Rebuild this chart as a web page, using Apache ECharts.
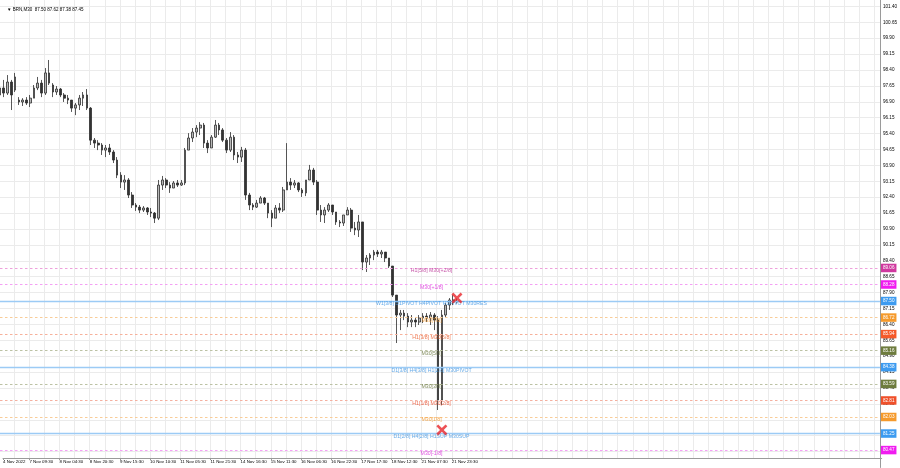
<!DOCTYPE html>
<html><head><meta charset="utf-8">
<script src="https://cdn.jsdelivr.net/npm/echarts@6/dist/echarts.min.js"></script>
<style>html,body{margin:0;padding:0;background:#fff}#c{width:900px;height:468px}</style>
</head><body><div id="c"></div>
<script>
// ---------- data ----------
const chartTitle = '\u25BC BRN,M30  87.50 87.62 87.38 87.45';
const timeLabels = ['4 Nov 2022','7 Nov 09:30','8 Nov 04:30','8 Nov 20:30','9 Nov 15:30','10 Nov 10:30','11 Nov 05:30','11 Nov 21:30','14 Nov 16:30','15 Nov 11:30','16 Nov 06:30','16 Nov 22:30','17 Nov 17:30','18 Nov 12:30','21 Nov 07:30','21 Nov 23:30'];
// each candle = 2 hours (4 x M30), [open, close, low, high]
const candles = [
[97.22,97.55,96.98,97.69],[97.55,97.31,97.12,97.93],[97.31,97.83,97.22,98.16],[97.83,97.22,96.51,97.93],[97.45,98.07,97.36,98.26],
[96.98,96.89,96.75,97.12],[96.89,96.98,96.70,97.07],[96.98,96.84,96.75,97.12],[96.84,97.07,96.65,97.22],[97.07,97.55,97.07,97.69],
[97.55,97.78,97.45,98.07],[97.78,97.31,97.12,97.93],[97.31,98.26,97.22,98.49],[98.26,97.78,97.69,98.87],[97.69,97.36,97.12,97.78],
[97.36,97.50,97.22,97.64],[97.50,97.22,97.12,97.55],[97.22,97.07,96.89,97.31],[97.07,96.98,96.79,97.22],[96.98,96.60,96.42,96.98],
[96.60,96.75,96.27,96.84],[96.75,97.07,96.51,97.22],[97.07,97.22,96.70,97.36],[97.22,96.60,96.51,97.50],[96.60,95.09,94.86,96.65],
[95.09,94.95,94.72,95.19],[94.95,94.86,94.62,95.09],[94.86,94.62,94.39,94.95],[94.62,94.72,94.29,94.86],[94.72,94.53,94.39,94.91],
[94.53,94.15,94.01,94.62],[94.15,93.44,93.30,94.29],[93.44,93.11,92.83,93.58],[93.11,93.21,92.74,93.44],[93.21,92.50,92.36,93.30],
[92.50,92.03,91.89,92.64],[92.03,91.93,91.75,92.12],[91.93,91.79,91.65,92.03],[91.79,91.89,91.70,91.98],[91.89,91.70,91.56,91.93],
[91.70,91.65,91.46,91.89],[91.65,91.41,91.18,91.70],[91.41,92.97,91.32,93.21],[92.97,93.21,92.74,93.40],[93.21,92.97,92.83,93.30],
[92.97,92.83,92.60,93.11],[92.83,93.07,92.83,93.16],[93.07,92.97,92.88,93.21],[92.97,93.07,92.93,93.21],[93.07,94.62,92.97,94.72],
[94.62,95.19,94.62,95.42],[95.19,95.47,95.00,95.66],[95.47,95.66,95.23,95.80],[95.66,95.80,95.33,95.94],[95.80,94.95,94.72,95.90],
[94.95,94.72,94.48,95.09],[94.72,95.23,94.72,95.33],[95.23,95.80,95.19,96.04],[95.80,95.57,95.33,95.90],[95.57,95.09,95.00,95.66],
[95.09,94.62,94.48,95.19],[94.62,95.23,94.53,95.47],[95.23,94.39,94.15,95.33],[94.39,94.29,94.01,94.53],[94.29,94.62,94.06,94.77],
[94.62,92.50,92.27,94.72],[92.50,92.03,91.79,92.60],[92.03,91.93,91.79,92.12],[91.93,92.12,91.89,92.27],[92.12,92.36,92.12,92.45],
[92.36,92.12,92.03,92.41],[92.12,91.65,91.41,92.12],[91.65,91.41,90.99,91.79],[91.41,91.89,91.41,92.03],[91.89,91.79,91.65,92.12],
[91.79,92.74,91.70,92.88],[92.74,93.11,92.74,94.95],[93.11,92.97,92.74,93.30],[92.97,93.07,92.83,93.21],[93.07,92.74,92.64,93.11],
[92.74,92.60,92.41,92.83],[92.60,93.21,92.45,93.21],[93.21,93.68,93.21,93.92],[93.68,93.11,92.97,93.78],[93.11,91.79,91.56,93.21],
[91.79,91.56,91.23,92.03],[91.56,91.79,91.18,91.93],[91.79,92.03,91.70,92.12],[92.03,91.70,91.56,92.03],[91.70,91.23,91.09,91.70],
[91.23,91.18,90.99,91.32],[91.18,91.56,91.04,91.56],[91.56,91.79,91.56,91.93],[91.79,90.94,90.76,91.89],[90.94,90.85,90.61,91.23],
[90.85,91.23,90.52,91.56],[91.23,89.34,88.96,91.23],[89.34,89.53,88.87,89.67],[89.53,89.67,89.20,89.76],[89.67,89.81,89.43,89.91],
[89.81,89.72,89.58,89.91],[89.72,89.81,89.53,89.91],[89.81,89.53,89.34,89.81],[89.53,89.15,89.06,89.53],[89.15,87.78,87.69,89.15],
[87.78,86.84,85.52,87.78],[86.84,86.93,86.13,87.08],[86.93,86.79,86.60,87.08],[86.79,86.51,86.27,86.93],[86.51,86.60,86.27,86.84],
[86.60,86.51,86.27,86.74],[86.51,86.70,86.37,86.84],[86.70,86.79,86.46,86.93],[86.79,86.70,86.51,86.93],[86.70,86.84,86.37,86.98],
[86.84,86.60,86.13,86.93],[86.60,82.83,82.36,86.79],[82.83,86.84,82.60,87.08],[86.84,87.31,86.70,87.41],[87.31,87.55,87.08,87.64],
[87.55,87.45,87.31,87.78],[87.50,87.45,87.38,87.62]
];
const levelValues = [89.0625, 88.28125, 87.5, 86.71875, 85.9375, 85.15625, 84.375, 83.59375, 82.8125, 82.03125, 81.25, 80.46875];
const levelTexts = ['H1[5/8] M30[+2/8]','M30[+1/8]','W1[3/8] D1PIVOT H4PIVOT H1PIVOT M30RES','M30[7/8]','H1[3/8] M30[6/8]','M30[5/8]','D1[3/8] H4[3/8] H1[2/8] M30PIVOT','M30[3/8]','H1[1/8] M30[2/8]','M30[1/8]','D1[2/8] H4[2/8] H1SUP M30SUP','M30[-1/8]'];
const markerSlots = [121, 117];
const markerPrices = [87.64, 81.42];
const levelLabelSlot = 114;
const priceMin = 79.65, priceMax = 101.70, priceStep = 0.75;
const slotCount = 234;

// ---------- styles ----------
const levelBox = ['#d0399f','#f01cf0','#3d9bf0','#f59a2c','#f55a2a','#6e7c3e','#3d9bf0','#6e7c3e','#f0502a','#f59a2c','#3d9bf0','#f01cf0'];
const levelLine = ['#eea0dc','#f4a0f4','#9ccbf5','#f8cc98','#f6b09a','#bcc2a4','#9ccbf5','#bcc2a4','#f4b0a0','#f8cc98','#9ccbf5','#f4a0f4'];
const levelSolid = [false,false,true,false,false,false,true,false,false,false,true,false];
const levelTextColor = ['#b82c92','#d826d8','#3f95e2','#f0901e','#ea5420','#5e6c30','#3f95e2','#5e6c30','#e84420','#f0901e','#3f95e2','#d826d8'];
const FONT = 'Liberation Sans';

// ---------- build ----------
const categories = [];
for (let i = 0; i < slotCount; i++) categories.push(String(i));
const labelAt = {};
timeLabels.forEach((t, k) => { labelAt[k === 0 ? 0 : 7 + 8 * (k - 1)] = t; });

const plotW = 881.7;
const pxPerUnit = 21.2;
const grid0H = (priceMax - priceMin) * pxPerUnit;

const markLineData = levelValues.map((v, i) => ({
  yAxis: v,
  lineStyle: { color: levelLine[i], type: levelSolid[i] ? 'solid' : [2.5, 2.5], width: levelSolid[i] ? 1.3 : 1, opacity: 1 },
  label: {
    show: true, position: 'end', distance: 1,
    formatter: () => v.toFixed(2),
    backgroundColor: levelBox[i], color: '#fff', fontSize: 4.6, fontFamily: FONT,
    padding: [2, 2, 1.5, 2]
  }
}));

const chart = echarts.init(document.getElementById('c'), null, { renderer: 'canvas' });
chart.setOption({
  animation: false,
  backgroundColor: '#ffffff',
  title: {
    text: chartTitle, left: 2, top: 2,
    textStyle: { fontSize: 4.5, fontWeight: 'normal', color: '#000', fontFamily: FONT }
  },
  grid: [
    { left: 0, top: 0, width: plotW, height: grid0H, containLabel: false },
    { left: 0, top: 0, width: plotW, bottom: 10, containLabel: false }
  ],
  xAxis: [
    { type: 'category', gridIndex: 0, data: categories, boundaryGap: false, show: false },
    {
      type: 'category', gridIndex: 1, data: categories, boundaryGap: false,
      axisLine: { lineStyle: { color: '#9a9a9a', width: 1 } },
      axisTick: { show: true, length: 2, interval: (i) => labelAt[i] !== undefined, lineStyle: { color: '#9a9a9a' } },
      axisLabel: {
        interval: (i) => labelAt[i] !== undefined,
        formatter: (v, i) => labelAt[i] || '',
        align: 'left', margin: 2, fontSize: 4.4, color: '#000', fontFamily: FONT
      },
      splitLine: { show: true, interval: (i) => (i - 3) % 4 === 0, lineStyle: { color: '#ebebeb', width: 1 } }
    }
  ],
  yAxis: [
    {
      type: 'value', gridIndex: 0, position: 'right', min: priceMin, max: priceMax, interval: priceStep,
      axisLine: { show: true, lineStyle: { color: '#9a9a9a' } },
      axisTick: { show: false },
      axisLabel: { showMinLabel: false, showMaxLabel: false, margin: 3, fontSize: 4.6, color: '#000', fontFamily: FONT, formatter: (v) => v.toFixed(2) },
      splitLine: { show: true, showMinLine: false, showMaxLine: false, lineStyle: { color: '#ebebeb', width: 1 } }
    },
    { type: 'value', gridIndex: 1, show: false, splitLine: { show: false } }
  ],
  series: [
    {
      type: 'candlestick', xAxisIndex: 0, yAxisIndex: 0, data: candles, barWidth: 2.2,
      itemStyle: { color: '#b8b8b8', color0: '#333333', borderColor: '#2e2e2e', borderColor0: '#2e2e2e', borderWidth: 0.8 },
      markLine: { symbol: 'none', silent: true, animation: false, data: markLineData }
    },
    {
      type: 'scatter', xAxisIndex: 0, yAxisIndex: 0, symbolSize: 1, itemStyle: { color: 'rgba(0,0,0,0)' },
      data: levelValues.map((v, i) => ({
        value: [levelLabelSlot, v],
        label: { show: true, position: 'inside', offset: [1, 3], formatter: levelTexts[i], color: levelTextColor[i], fontSize: 5.2, fontFamily: FONT }
      })),
      z: 5
    },
    {
      type: 'scatter', xAxisIndex: 0, yAxisIndex: 0,
      symbol: 'path://M0,2 L2,0 L6,4 L10,0 L12,2 L8,6 L12,10 L10,12 L6,8 L2,12 L0,10 L4,6 Z',
      symbolSize: 11, itemStyle: { color: '#e8262a' },
      data: markerSlots.map((s, i) => [s, markerPrices[i]]), z: 6
    }
  ]
});
</script>
</body></html>
